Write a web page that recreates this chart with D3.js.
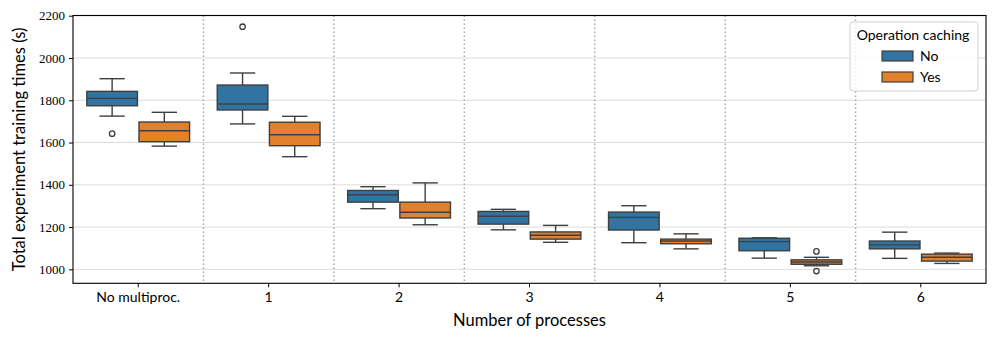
<!DOCTYPE html>
<html>
<head>
<meta charset="utf-8">
<script src="https://cdn.jsdelivr.net/npm/d3@7"></script>
<style>
  body { margin: 0; background: #fff; }
</style>
</head>
<body>
<div id="chart"></div>
<script>
// categories along the x axis
let categories = ['No multiproc.', '1', '2', '3', '4', '5', '6'];
let hues = ['No', 'Yes'];
let hueColors = ['#3274a1', '#e1812c'];

// [lower whisker, Q1, median, Q3, upper whisker] per category
let noCaching = [
  [1725, 1774, 1809, 1842, 1902],
  [1688, 1754, 1782, 1872, 1929],
  [1287, 1318, 1353, 1373, 1391],
  [1187, 1214, 1251, 1274, 1284],
  [1126, 1186, 1246, 1271, 1301],
  [1053, 1088, 1131, 1147, 1149],
  [1052, 1097, 1116, 1134, 1176]
];
let yesCaching = [
  [1583, 1604, 1656, 1697, 1743],
  [1533, 1585, 1637, 1696, 1724],
  [1211, 1243, 1270, 1318, 1409],
  [1128, 1143, 1161, 1177, 1208],
  [1097, 1121, 1134, 1143, 1168],
  [1017, 1024, 1035, 1045, 1057],
  [1028, 1039, 1057, 1072, 1077]
];
let noOutliers = [[1642], [2148], [], [], [], [], []];
let yesOutliers = [[], [], [], [], [], [1085, 992], []];

let yTicks = [1000, 1200, 1400, 1600, 1800, 2000, 2200];

let W = 997, H = 341;
let margin = {top: 15.5, right: 11, bottom: 57.7, left: 73};
let lineColor = '#3f3f3f';
let sansFont = '"Lato", "DejaVu Sans", sans-serif';
let serifFont = '"Liberation Serif", serif';

let svg = d3.select('#chart').append('svg')
  .attr('width', W)
  .attr('height', H);

let xScale = d3.scaleBand()
  .domain(categories)
  .range([margin.left, W - margin.right])
  .padding(0);

let hueScale = d3.scaleBand()
  .domain(hues)
  .range([0, xScale.bandwidth() * 0.8]);

let yScale = d3.scaleLinear()
  .domain([934, 2201])
  .range([H - margin.bottom, margin.top]);

// horizontal grid
svg.append('g')
  .selectAll('line')
  .data(yTicks)
  .enter().append('line')
    .attr('x1', margin.left)
    .attr('x2', W - margin.right)
    .attr('y1', (d) => yScale(d))
    .attr('y2', (d) => yScale(d))
    .attr('stroke', '#dcdcdc')
    .attr('stroke-width', 1);

// dotted separators between categories
svg.append('g')
  .selectAll('line')
  .data(categories.slice(1))
  .enter().append('line')
    .attr('x1', (d) => xScale(d))
    .attr('x2', (d) => xScale(d))
    .attr('y1', margin.top)
    .attr('y2', H - margin.bottom)
    .attr('stroke', '#aaaaaa')
    .attr('stroke-width', 1.5)
    .attr('stroke-dasharray', '1.5,2.5');

// boxes
let series = [noCaching, yesCaching];
let outliers = [noOutliers, yesOutliers];

series.forEach((stats, h) => {
  let g = svg.append('g');
  let boxW = hueScale.bandwidth() * 0.97;
  stats.forEach((s, i) => {
    let cx = xScale(categories[i]) + xScale.bandwidth() * 0.1 + hueScale(hues[h]) + hueScale.bandwidth() / 2;
    // whiskers
    g.append('line')
      .attr('x1', cx).attr('x2', cx)
      .attr('y1', yScale(s[0])).attr('y2', yScale(s[1]))
      .attr('stroke', lineColor).attr('stroke-width', 1.4);
    g.append('line')
      .attr('x1', cx).attr('x2', cx)
      .attr('y1', yScale(s[3])).attr('y2', yScale(s[4]))
      .attr('stroke', lineColor).attr('stroke-width', 1.4);
    [s[0], s[4]].forEach((v) => {
      g.append('line')
        .attr('x1', cx - boxW / 4).attr('x2', cx + boxW / 4)
        .attr('y1', yScale(v)).attr('y2', yScale(v))
        .attr('stroke', lineColor).attr('stroke-width', 1.4);
    });
    // box
    g.append('rect')
      .attr('x', cx - boxW / 2)
      .attr('y', yScale(s[3]))
      .attr('width', boxW)
      .attr('height', yScale(s[1]) - yScale(s[3]))
      .attr('fill', hueColors[h])
      .attr('stroke', lineColor)
      .attr('stroke-width', 1.4);
    // median
    g.append('line')
      .attr('x1', cx - boxW / 2).attr('x2', cx + boxW / 2)
      .attr('y1', yScale(s[2])).attr('y2', yScale(s[2]))
      .attr('stroke', lineColor).attr('stroke-width', 1.4);
    // outliers
    outliers[h][i].forEach((v) => {
      g.append('circle')
        .attr('cx', cx).attr('cy', yScale(v))
        .attr('r', 2.7)
        .attr('fill', 'none')
        .attr('stroke', lineColor)
        .attr('stroke-width', 1.3);
    });
  });
});

// axes
let xAxis = svg.append('g')
  .attr('transform', 'translate(0,' + (H - margin.bottom) + ')')
  .call(d3.axisBottom(xScale).tickSizeOuter(0).tickSize(4).tickPadding(5));
xAxis.select('.domain').remove();
xAxis.selectAll('text')
  .style('font-family', sansFont)
  .style('font-size', '14px');

let yAxis = svg.append('g')
  .attr('transform', 'translate(' + margin.left + ',0)')
  .call(d3.axisLeft(yScale).tickValues(yTicks).tickFormat(d3.format('d'))
    .tickSizeOuter(0).tickSize(4).tickPadding(4));
yAxis.select('.domain').remove();
yAxis.selectAll('text')
  .style('font-family', serifFont)
  .style('font-size', '13px');

svg.selectAll('.tick line').attr('stroke', '#000').attr('stroke-width', 1);
svg.selectAll('.tick text').attr('fill', '#000');

// frame
svg.append('rect')
  .attr('x', margin.left)
  .attr('y', margin.top)
  .attr('width', W - margin.left - margin.right)
  .attr('height', H - margin.top - margin.bottom)
  .attr('fill', 'none')
  .attr('stroke', '#000')
  .attr('stroke-width', 1.1);

// axis labels
svg.append('text')
  .attr('x', (margin.left + W - margin.right) / 2)
  .attr('y', 326)
  .attr('text-anchor', 'middle')
  .style('font-family', sansFont)
  .style('font-size', '16.5px')
  .text('Number of processes');

svg.append('text')
  .attr('transform', 'translate(25,' + ((margin.top + H - margin.bottom) / 2) + ') rotate(-90)')
  .attr('text-anchor', 'middle')
  .style('font-family', sansFont)
  .style('font-size', '16.5px')
  .text('Total experiment training times (s)');

// legend
let legend = svg.append('g')
  .style('font-family', sansFont)
  .style('font-size', '14px');
legend.append('rect')
  .attr('x', 850).attr('y', 22)
  .attr('width', 128).attr('height', 69)
  .attr('rx', 3)
  .attr('fill', '#fff').attr('fill-opacity', 0.8)
  .attr('stroke', '#d0d0d0');
legend.append('text')
  .attr('x', 913).attr('y', 40)
  .attr('text-anchor', 'middle')
  .text('Operation caching');
hues.forEach((h, i) => {
  legend.append('rect')
    .attr('x', 882).attr('y', 51 + i * 21)
    .attr('width', 31).attr('height', 10)
    .attr('fill', hueColors[i])
    .attr('stroke', lineColor)
    .attr('stroke-width', 1.2);
  legend.append('text')
    .attr('x', 920).attr('y', 61 + i * 21)
    .text(h);
});
</script>
</body>
</html>
